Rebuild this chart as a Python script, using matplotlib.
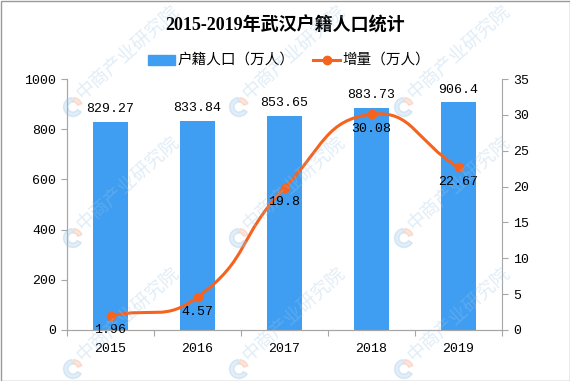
import numpy as np
import matplotlib
matplotlib.use('Agg')
import matplotlib.pyplot as plt
from matplotlib.path import Path
from matplotlib.patches import PathPatch, Rectangle, Wedge
from matplotlib.lines import Line2D

years = ['2015', '2016', '2017', '2018', '2019']
population = [829.27, 833.84, 853.65, 883.73, 906.4]
increase = [1.96, 4.57, 19.8, 30.08, 22.67]
pop_labels = ['829.27', '833.84', '853.65', '883.73', '906.4']
inc_labels = ['1.96', '4.57', '19.8', '30.08', '22.67']

BLUE = '#3f9ef2'
ORANGE = '#f5631f'
GRAY = '#a6a6a6'
CJK = ['Noto Sans CJK SC']
NUM = ['Liberation Mono', 'Noto Sans CJK SC']
W, H = 570, 381

fig = plt.figure(figsize=(5.7, 3.81), dpi=100)
ax = fig.add_axes([67/W, 1 - 330/H, 435/W, 251/H])
ax2 = ax.twinx()

x = np.arange(len(years))
ax.bar(x, population, width=0.4, color=BLUE, zorder=2)
ax.set_xlim(-0.5, len(years) - 0.5)
ax.set_ylim(0, 1000)
ax.set_yticks(np.arange(0, 1001, 200))
ax2.set_ylim(0, 35)
ax2.set_yticks(np.arange(0, 36, 5))

for i, v in enumerate(population):
    ax.annotate(pop_labels[i], (x[i], v), xytext=(0, 5), textcoords='offset points',
                ha='center', va='bottom', fontsize=9.5, family=NUM)

# x ticks at category boundaries, labels at centres
ax.set_xticks(np.arange(-0.5, len(years)), minor=False)
ax.set_xticklabels([])
ax.set_xticks(x, minor=True)
ax.set_xticklabels(years, minor=True, fontsize=9.5, family=NUM)
ax.tick_params(axis='x', which='minor', length=0, pad=9)
ax.tick_params(axis='x', which='major', length=4, color=GRAY)

for a in (ax, ax2):
    for s in a.spines.values():
        s.set_color(GRAY)
    a.spines['top'].set_visible(False)
ax.spines['right'].set_visible(False)
ax.tick_params(axis='y', length=4, color=GRAY, labelsize=9.5, pad=4)
ax2.tick_params(axis='y', length=4, color=GRAY, labelsize=9.5, pad=4)
for lab in ax.get_yticklabels() + ax2.get_yticklabels():
    lab.set_family(NUM)

# smooth line (echarts-like bezier) computed in display space
pts = ax2.transData.transform(np.column_stack([x, increase]))
n = len(pts)
smooth = 0.5
cps = []
for i in range(n):
    p = pts[i]
    prev = pts[i - 1] if i > 0 else p
    nxt = pts[i + 1] if i < n - 1 else p
    v = nxt - prev
    d0 = np.hypot(*(p - prev))
    d1 = np.hypot(*(p - nxt))
    tot = d0 + d1 if d0 + d1 > 0 else 1
    cps.append((p - v * smooth * d0 / tot, p + v * smooth * d1 / tot))
verts = [pts[0]]
codes = [Path.MOVETO]
for i in range(n - 1):
    verts += [cps[i][1], cps[i + 1][0], pts[i + 1]]
    codes += [Path.CURVE4] * 3
verts = ax2.transData.inverted().transform(np.array(verts))
ax2.add_patch(PathPatch(Path(verts, codes), fill=False, edgecolor=ORANGE,
                        linewidth=2.2, zorder=3))
ax2.plot(x, increase, 'o', color=ORANGE, markersize=6, zorder=4)
for i, v in enumerate(increase):
    ax2.annotate(inc_labels[i], (x[i], v), xytext=(0, -6), textcoords='offset points',
                 ha='center', va='top', fontsize=9.5, family=NUM, zorder=5)

# title and legend
fig.text(0.5, 1 - 25/H, '2015-2019年武汉户籍人口统计', ha='center', va='center',
         fontsize=13, fontweight='bold', family=['Liberation Serif', 'Noto Sans CJK SC'])
fig.patches.append(Rectangle((148/W, 1 - 65/H), 27/W, 10/H, transform=fig.transFigure,
                             color=BLUE, figure=fig))
fig.text(177/W, 1 - 60/H, '户籍人口（万人）', ha='left', va='center', fontsize=10.5, family=CJK)
fig.lines.append(Line2D([313/W, 340/W], [1 - 60/H] * 2, transform=fig.transFigure,
                        color=ORANGE, lw=2.2, figure=fig))
fig.lines.append(Line2D([326.5/W], [1 - 60/H], transform=fig.transFigure, color=ORANGE,
                        marker='o', markersize=6, figure=fig))
fig.text(342/W, 1 - 60/H, '增量（万人）', ha='left', va='center', fontsize=10.5, family=CJK)

# watermarks
for cx in [127, 293, 458]:
    for cy in [52, 183, 314]:
        fig.text(cx / W, 1 - cy / H, '中商产业研究院', rotation=42, ha='center', va='center',
                 fontsize=13.5, color='#9cc4e6', alpha=0.3, family=CJK, zorder=10)
        lx, ly = (cx - 54) / 100, (H - cy - 55) / 100
        fig.patches.append(Wedge((lx, ly), 0.095, 95, 330, width=0.045, color='#9cc4e6',
                                 alpha=0.3, transform=fig.dpi_scale_trans, figure=fig, zorder=10))
        fig.patches.append(Wedge((lx, ly), 0.095, 20, 85, width=0.045, color='#f3a98a',
                                 alpha=0.3, transform=fig.dpi_scale_trans, figure=fig, zorder=10))

fig.patches.append(Rectangle((0.5/W, 0.5/H), 569/W, 380/H, transform=fig.transFigure,
                             fill=False, edgecolor='#999999', lw=1, figure=fig))

fig.savefig('out.png', dpi=100)
